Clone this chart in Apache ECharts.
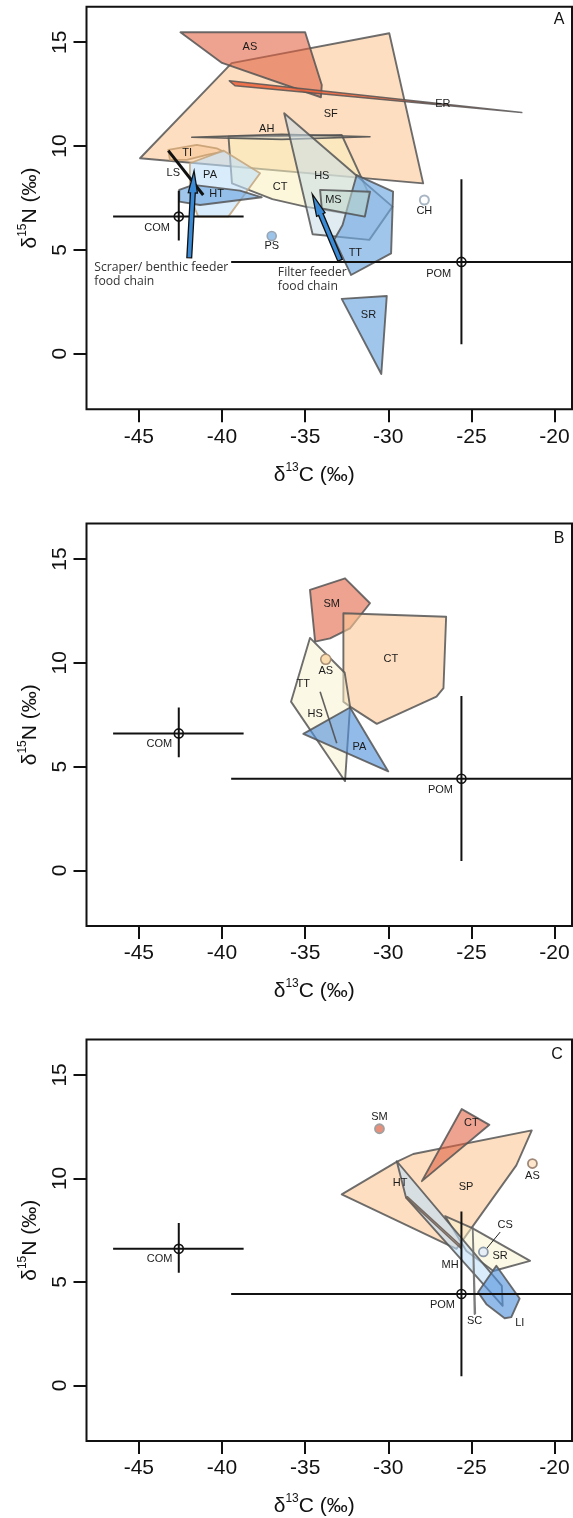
<!DOCTYPE html>
<html><head><meta charset="utf-8">
<script src="https://cdn.jsdelivr.net/npm/echarts@6/dist/echarts.min.js"></script>
<style>html,body{margin:0;padding:0;background:#fff}#c{width:573px;height:1518px}</style>
</head><body><div id="c"></div><script>
// ---------- axes ----------
const X_TICKS = [-45, -40, -35, -30, -25, -20];
const Y_TICKS = [0, 5, 10, 15];
const X_RANGE = [-48.15, -18.95];
const Y_RANGE = [-2.68, 16.71];

// ---------- common sources (all panels) ----------
const COM = [-42.6, 6.6];
const COM_XERR = [-46.55, -38.7];
const COM_YERR = [5.45, 7.85];
const POM = [-25.6, 4.42];
const POM_XERR = [-39.45, -18.95];
const POM_YERR = [0.45, 8.4];

// ---------- panel A polygons ----------
const A_SF = [[-44.93,9.41],[-39.42,13.99],[-29.94,15.43],[-27.9,8.2]];
const A_AS = [[-42.5,15.48],[-35.0,15.48],[-34.0,12.94],[-34.05,12.35],[-40.0,14.0]];
const A_ER = [[-39.56,13.14],[-21.97,11.61],[-39.22,12.9]];
const A_AH = [[-41.82,10.42],[-36.4,10.56],[-31.1,10.45],[-36.4,10.32]];
const A_CT = [[-39.61,10.45],[-32.8,10.53],[-31.19,7.73],[-31.41,6.6],[-35.0,7.08],[-36.97,7.44],[-39.4,8.2]];
const A_HS = [[-36.26,11.58],[-31.95,8.6],[-29.75,7.08],[-31.14,5.48],[-34.55,5.75]];
const A_MS = [[-34.1,7.89],[-31.1,7.8],[-31.41,6.6],[-34.0,7.0]];
const A_TT = [[-31.9,8.6],[-29.71,7.8],[-29.83,4.83],[-32.24,3.79],[-33.25,5.5],[-32.75,6.2]];
const A_TI = [[-43.23,9.81],[-41.52,10.05],[-40.32,9.89],[-39.92,9.73],[-40.92,9.57],[-42.12,9.33],[-43.13,9.33]];
const A_PA = [[-41.93,9.17],[-39.92,9.78],[-37.71,8.69],[-39.62,6.6],[-41.43,6.6],[-41.93,7.56]];
const A_HT = [[-42.57,7.89],[-41.73,8.13],[-38.92,7.85],[-37.61,7.53],[-41.32,7.16],[-42.57,7.32]];
const A_SR = [[-32.8,2.64],[-30.09,2.78],[-30.42,-0.98]];
const A_LS = [[-43.23,9.78],[-41.13,7.64]];
const A_PS = [-37.01, 5.67];
const A_CH = [-27.83, 7.4];
const A_ARROW_SCRAPER = [[-41.97,4.62],[-41.68,8.8]];
const A_ARROW_FILTER = [[-32.9,4.5],[-34.57,7.68]];
const A_LABELS = [
  ['AS',-38.32,14.79],['SF',-33.46,11.55],['ER',-26.72,12.01],['AH',-37.31,10.82],
  ['TI',-42.09,9.65],['LS',-42.93,8.69],['PA',-40.72,8.61],['HT',-40.32,7.68],
  ['CT',-36.51,8.02],['HS',-34.0,8.56],['MS',-33.3,7.4],['TT',-31.98,4.84],
  ['COM',-43.9,6.07],['POM',-26.97,3.84],['CH',-27.83,6.87],['PS',-37.01,5.19],['SR',-31.19,1.86]
];
const A_NOTES = [['Scraper/ benthic feeder\nfood chain',-47.68,3.83],['Filter feeder\nfood chain',-36.64,3.57]];

// ---------- panel B ----------
const B_SM = [[-34.71,13.51],[-32.6,14.07],[-31.1,12.87],[-32.3,11.66],[-33.5,11.18],[-34.4,11.02]];
const B_CT = [[-32.7,12.39],[-26.52,12.22],[-26.68,8.78],[-27.1,8.37],[-30.69,7.06],[-32.3,7.89],[-32.7,8.13]];
const B_TT = [[-34.71,11.2],[-32.62,9.52],[-32.3,7.9],[-32.6,4.3],[-35.85,8.13]];
const B_PA = [[-35.11,6.58],[-32.3,7.85],[-30.0,4.77]];
const B_HS = [[-34.1,8.61],[-33.1,6.13]];
const B_AS = [-33.76, 10.17];
const B_LABELS = [
  ['SM',-33.4,12.83],['CT',-29.85,10.17],['AS',-33.76,9.62],['TT',-35.11,8.97],
  ['HS',-34.4,7.54],['PA',-31.74,5.97],['COM',-43.77,6.1],['POM',-26.86,3.88]
];

// ---------- panel C ----------
const C_SP = [[-32.8,9.23],[-29.5,10.8],[-28.5,11.18],[-21.37,12.32],[-22.3,10.63],[-25.0,7.6],[-25.9,6.6]];
const C_CT = [[-25.58,13.35],[-23.92,12.59],[-27.98,9.87]];
const C_SR = [[-26.58,8.18],[-24.95,7.6],[-21.47,6.02],[-23.68,5.53],[-25.3,6.5]];
const C_HT = [[-29.49,10.83],[-23.17,4.81],[-23.12,3.85],[-28.93,9.07]];
const C_MH = [[-28.93,9.07],[-25.62,6.62],[-25.7,6.8],[-28.86,9.12]];
const C_SC = [[-24.92,7.62],[-24.81,3.45],[-24.77,3.48]];
const C_LI = [[-23.5,5.78],[-22.1,4.2],[-22.6,3.3],[-23.0,3.25],[-24.1,3.93],[-24.6,4.5]];
const C_SM = [-30.53, 12.4];
const C_AS = [-21.33, 10.72];
const C_CS = [-24.28, 6.45];
const C_CS_LEADER = [[-24.12,6.58],[-23.27,7.41]];
const C_LABELS = [
  ['SM',-30.53,12.99],['CT',-25.0,12.7],['AS',-21.33,10.1],['HT',-29.29,9.79],['SP',-25.32,9.6],
  ['CS',-22.97,7.73],['SR',-23.27,6.26],['MH',-26.28,5.81],['POM',-26.74,3.88],['SC',-24.81,3.13],
  ['LI',-22.09,3.02],['COM',-43.75,6.1]
];
const PANEL_TAGS = ['A','B','C'];

// ---------- styles ----------
const EDGE = 'rgba(85,85,85,0.85)';
const ST = {
  orange: {fill:'rgba(251,200,150,0.6)', stroke:EDGE, lineWidth:1.9},
  red:    {fill:'rgba(224,96,63,0.58)', stroke:EDGE, lineWidth:1.9},
  er:     {fill:'rgba(235,95,55,0.85)', stroke:EDGE, lineWidth:1.5},
  ah:     {fill:'rgba(210,210,210,0.4)', stroke:'rgba(80,80,80,0.9)', lineWidth:1.6},
  yellow: {fill:'rgba(250,240,190,0.55)', stroke:EDGE, lineWidth:1.9},
  paleY:  {fill:'rgba(250,242,205,0.5)', stroke:EDGE, lineWidth:1.9},
  hs:     {fill:'rgba(200,220,232,0.55)', stroke:EDGE, lineWidth:1.9},
  ms:     {fill:'rgba(190,215,205,0.55)', stroke:EDGE, lineWidth:1.9},
  blue:   {fill:'rgba(111,168,224,0.65)', stroke:EDGE, lineWidth:1.9},
  blue2:  {fill:'rgba(80,145,220,0.62)', stroke:EDGE, lineWidth:1.9},
  ti:     {fill:'rgba(245,196,145,0.55)', stroke:'rgba(200,160,115,0.9)', lineWidth:1.8},
  pa:     {fill:'rgba(192,224,250,0.6)', stroke:'rgba(195,165,125,0.85)', lineWidth:1.8},
  paleB:  {fill:'rgba(192,224,250,0.6)', stroke:EDGE, lineWidth:1.9},
  ls:     {fill:'none', stroke:'#111', lineWidth:3},
  hsLine: {fill:'none', stroke:'rgba(80,80,80,0.9)', lineWidth:1.6},
  mh:     {fill:'rgba(120,100,90,0.4)', stroke:'rgba(110,95,85,0.9)', lineWidth:1.5},
  sc:     {fill:'none', stroke:'rgba(110,110,110,0.9)', lineWidth:1.8},
  leader: {fill:'none', stroke:'#222', lineWidth:1}
};

const FONT = 'Liberation Sans, Arial, sans-serif';
const GRID_TOPS = [6.7, 523.5, 1039.5];
const GRID_H = 402.6;

const series = [];
function poly(gi, pts, st, open) {
  series.push({
    type: 'custom', xAxisIndex: gi, yAxisIndex: gi, data: [0], silent: true, clip: true,
    renderItem: function (params, api) {
      const p = pts.map(q => api.coord(q));
      return {type: open ? 'polyline' : 'polygon', shape: {points: p},
        style: {fill: open ? null : st.fill, stroke: st.stroke, lineWidth: st.lineWidth, lineJoin: 'round'}};
    }
  });
}
function point(gi, pt, fill, stroke, r, lw) {
  series.push({
    type: 'custom', xAxisIndex: gi, yAxisIndex: gi, data: [pt], silent: true,
    renderItem: function (params, api) {
      const c = api.coord([api.value(0), api.value(1)]);
      return {type: 'circle', shape: {cx: c[0], cy: c[1], r: r}, style: {fill: fill, stroke: stroke, lineWidth: lw}};
    }
  });
}
function source(gi, c, xe, ye) {
  series.push({
    type: 'custom', xAxisIndex: gi, yAxisIndex: gi, data: [c], silent: true, clip: true,
    renderItem: function (params, api) {
      const x = api.value(0), y = api.value(1);
      const p = api.coord([x, y]);
      const a = api.coord([xe[0], y]), b = api.coord([xe[1], y]);
      const t = api.coord([x, ye[1]]), u = api.coord([x, ye[0]]);
      const r = 4.5, s = {stroke: '#111', lineWidth: 2};
      return {type: 'group', children: [
        {type: 'line', shape: {x1: a[0], y1: a[1], x2: b[0], y2: b[1]}, style: s},
        {type: 'line', shape: {x1: t[0], y1: t[1], x2: u[0], y2: u[1]}, style: s},
        {type: 'circle', shape: {cx: p[0], cy: p[1], r: r}, style: {fill: 'none', stroke: '#111', lineWidth: 1.6}}
      ]};
    }
  });
}
function arrow(gi, seg) {
  series.push({
    type: 'custom', xAxisIndex: gi, yAxisIndex: gi, data: [0], silent: true,
    renderItem: function (params, api) {
      const p0 = api.coord(seg[0]), p1 = api.coord(seg[1]);
      const dx = p1[0]-p0[0], dy = p1[1]-p0[1], L = Math.hypot(dx, dy);
      const ux = dx/L, uy = dy/L, nx = -uy, ny = ux;
      const hw = 2.4, hh = 4.6, hl = 22;
      const bx = p1[0]-ux*hl, by = p1[1]-uy*hl;
      const pts = [[p0[0]+nx*hw,p0[1]+ny*hw],[bx+nx*hw,by+ny*hw],[bx+nx*hh,by+ny*hh],[p1[0],p1[1]],
                   [bx-nx*hh,by-ny*hh],[bx-nx*hw,by-ny*hw],[p0[0]-nx*hw,p0[1]-ny*hw]];
      return {type: 'polygon', shape: {points: pts}, style: {fill: '#3a8ad6', stroke: '#111', lineWidth: 1.3}};
    }
  });
}
function labels(gi, list, size, family, color, align, lh) {
  series.push({
    type: 'custom', xAxisIndex: gi, yAxisIndex: gi, data: list.map(l => [l[1], l[2]]), silent: true,
    renderItem: function (params, api) {
      const c = api.coord([api.value(0), api.value(1)]);
      return {type: 'text', x: c[0], y: c[1], style: {text: list[params.dataIndex][0], fill: color,
        fontSize: size, fontFamily: family, align: align || 'center', verticalAlign: 'middle', lineHeight: lh || size}};
    }
  });
}

// panel A
poly(0, A_SF, ST.orange); poly(0, A_AS, ST.red); poly(0, A_ER, ST.er); poly(0, A_CT, ST.yellow);
poly(0, A_AH, ST.ah); poly(0, A_HS, ST.hs); poly(0, A_TT, ST.blue); poly(0, A_MS, ST.ms);
poly(0, A_TI, ST.ti); poly(0, A_PA, ST.pa); poly(0, A_HT, ST.blue); poly(0, A_SR, ST.blue);
poly(0, A_LS, ST.ls, true);
source(0, COM, COM_XERR, COM_YERR); source(0, POM, POM_XERR, POM_YERR);
arrow(0, A_ARROW_SCRAPER); arrow(0, A_ARROW_FILTER);
point(0, A_PS, '#9cc3ea', '#9aa6b2', 4.5, 1.6); point(0, A_CH, '#ffffff', '#a9b6c4', 4.5, 2);
labels(0, A_LABELS, 11, FONT, '#1a1a1a');
labels(0, A_NOTES, 12.2, 'Open Sans, Noto Sans, sans-serif', '#333', 'left', 14);
labels(0, [[PANEL_TAGS[0], -19.72, 16.07]], 16, FONT, '#111');

// panel B
poly(1, B_SM, ST.red); poly(1, B_CT, ST.orange); poly(1, B_TT, ST.paleY); poly(1, B_PA, ST.blue2);
poly(1, B_HS, ST.hsLine, true);
source(1, COM, COM_XERR, COM_YERR); source(1, POM, POM_XERR, POM_YERR);
point(1, B_AS, '#fbdcae', '#a89078', 5, 1.6);
labels(1, B_LABELS, 11, FONT, '#1a1a1a');
labels(1, [[PANEL_TAGS[1], -19.72, 16.0]], 16, FONT, '#111');

// panel C
poly(2, C_SP, ST.orange); poly(2, C_CT, ST.red); poly(2, C_SR, ST.paleY); poly(2, C_HT, ST.paleB);
poly(2, C_MH, ST.mh); poly(2, C_LI, ST.blue2); poly(2, C_SC, ST.sc);
source(2, COM, COM_XERR, COM_YERR); source(2, POM, POM_XERR, POM_YERR);
poly(2, C_CS_LEADER, ST.leader, true);
point(2, C_SM, '#e8907a', '#a0a0a0', 4.5, 1.8); point(2, C_AS, '#fde6cc', '#a08878', 4.5, 1.8);
point(2, C_CS, '#e6eef6', '#8a98a8', 4.5, 1.8);
labels(2, C_LABELS, 11, FONT, '#1a1a1a');
labels(2, [[PANEL_TAGS[2], -19.85, 16.0]], 16, FONT, '#111');

const rich = {
  d: {fontSize: 21, fontFamily: FONT, color: '#111', lineHeight: 26, verticalAlign: 'bottom'},
  s: {fontSize: 12, fontFamily: FONT, color: '#111', lineHeight: 26, verticalAlign: 'top', padding: [2, 0, 0, 0]}
};
const grids = [], xAxes = [], yAxes = [];
for (let i = 0; i < 3; i++) {
  grids.push({left: 86.5, right: 1, top: GRID_TOPS[i], height: GRID_H, show: true,
    borderColor: '#111', borderWidth: 2, backgroundColor: 'transparent', containLabel: false});
  xAxes.push({gridIndex: i, type: 'value', min: X_RANGE[0], max: X_RANGE[1],
    axisLine: {show: false, onZero: false}, splitLine: {show: false},
    axisTick: {show: true, length: 13, lineStyle: {color: '#111', width: 2}, customValues: X_TICKS},
    axisLabel: {customValues: X_TICKS, fontSize: 21, fontFamily: FONT, color: '#111', margin: 17},
    name: '{d|δ}{s|13}{d|C (‰)}', nameLocation: 'middle', nameGap: 50,
    nameTextStyle: {rich: rich, padding: [0, 30, 0, 0]}});
  yAxes.push({gridIndex: i, type: 'value', min: Y_RANGE[0], max: Y_RANGE[1],
    axisLine: {show: false, onZero: false}, splitLine: {show: false},
    axisTick: {show: true, length: 13, lineStyle: {color: '#111', width: 2}, customValues: Y_TICKS},
    axisLabel: {customValues: Y_TICKS, fontSize: 21, fontFamily: FONT, color: '#111', margin: 16, rotate: 90},
    name: '{d|δ}{s|15}{d|N (‰)}', nameLocation: 'middle', nameGap: 46, nameRotate: 90,
    nameTextStyle: {rich: rich}});
}
const chart = echarts.init(document.getElementById('c'), null, {renderer: 'canvas'});
chart.setOption({animation: false, backgroundColor: '#fff', grid: grids, xAxis: xAxes, yAxis: yAxes, series: series});
</script></body></html>
